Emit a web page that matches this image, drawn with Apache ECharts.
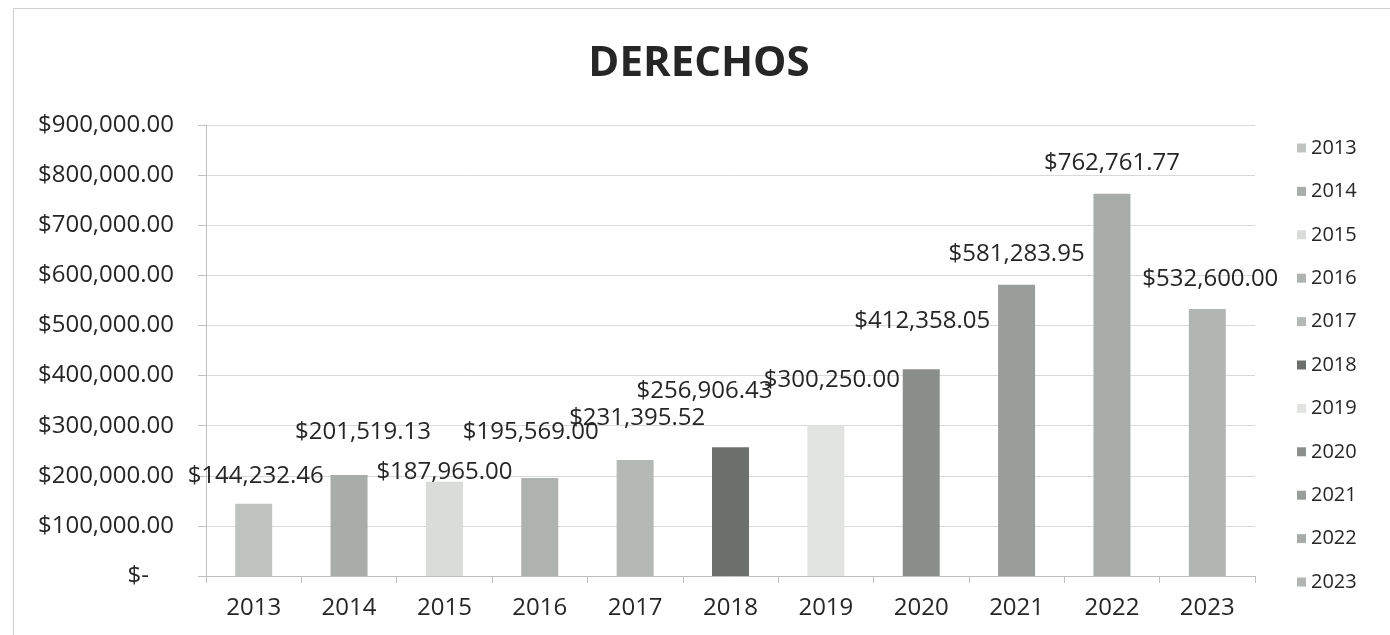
<!DOCTYPE html>
<html><head><meta charset="utf-8">
<script src="https://cdn.jsdelivr.net/npm/echarts@6/dist/echarts.min.js"></script>
<style>html,body{margin:0;padding:0;background:#fff}#c{width:1390px;height:635px}</style>
</head><body><div id="c"></div>
<script>
const categories = ['2013','2014','2015','2016','2017','2018','2019','2020','2021','2022','2023'];
const values = [144232.46, 201519.13, 187965.00, 195569.00, 231395.52, 256906.43, 300250.00, 412358.05, 581283.95, 762761.77, 532600.00];
const yTicks = [0, 100000, 200000, 300000, 400000, 500000, 600000, 700000, 800000, 900000];

const colors = ['#c0c4c0','#a9ada9','#d9dcd9','#afb3af','#b5b9b5','#6c706c','#e2e4e2','#8b8f8b','#9a9e9a','#a8aca8','#b2b6b2'];
const labelOffsets = [[2,-13],[14,-28],[0,5],[-9,-31],[2,-27],[-26,-41],[6,-30],[1,-33],[0,-16],[0,-16],[3,-15]];

function money(v){
  if (v === 0) return '$-    ';
  return '$' + v.toLocaleString('en-US',{minimumFractionDigits:2, maximumFractionDigits:2});
}
const FONT = '"Open Sans", "Noto Sans", sans-serif';

const series = categories.map((c, i) => ({
  name: c,
  type: 'bar',
  stack: 'all',
  barWidth: 37,
  data: categories.map((_, j) => j === i ? values[i] : '-'),
  itemStyle: { color: colors[i] },
  label: {
    show: true, position: 'top', distance: 5,
    offset: labelOffsets[i],
    color: '#262626', fontSize: 24, fontFamily: FONT, lineHeight: 20,
    formatter: p => money(p.value)
  }
}));

const chart = echarts.init(document.getElementById('c'), null, {renderer:'canvas'});
chart.setOption({
  animation: false,
  backgroundColor: '#fff',
  title: {
    text: 'DERECHOS', left: 694, top: 38, textAlign: 'center',
    textStyle: { fontFamily: FONT, fontWeight: 'bold', fontSize: 42, color: '#262626' }
  },
  graphic: [{
    type: 'rect', shape: { x: 13.5, y: 8.5, width: 1400, height: 700 },
    style: { fill: 'none', stroke: '#cfcfcf', lineWidth: 1 }, silent: true
  }],
  legend: {
    orient: 'vertical', left: 1292, top: 133,
    itemWidth: 9, itemHeight: 9, itemGap: 23.4,
    icon: 'rect',
    textStyle: { fontFamily: FONT, fontSize: 20, color: '#262626', lineHeight: 18 },
    data: categories
  },
  grid: { left: 206, right: 135, top: 125, bottom: 59, containLabel: false },
  xAxis: {
    type: 'category', data: categories,
    axisLine: { lineStyle: { color: '#bfbfbf' } },
    axisTick: { show: true, alignWithLabel: false, length: 7, lineStyle: { color: '#bfbfbf' } },
    axisLabel: { fontFamily: FONT, fontSize: 24, color: '#262626', margin: 20 }
  },
  yAxis: {
    type: 'value', min: 0, max: 900000, interval: 100000,
    axisLine: { show: true, lineStyle: { color: '#bfbfbf' } },
    axisTick: { show: true, length: 8, lineStyle: { color: '#bfbfbf' } },
    splitLine: { lineStyle: { color: '#d9d9d9' } },
    axisLabel: {
      fontFamily: FONT, fontSize: 24, color: '#262626', margin: 32,
      formatter: v => yTicks.indexOf(v) >= 0 ? money(v) : ''
    }
  },
  series: series
});
</script>
</body></html>
